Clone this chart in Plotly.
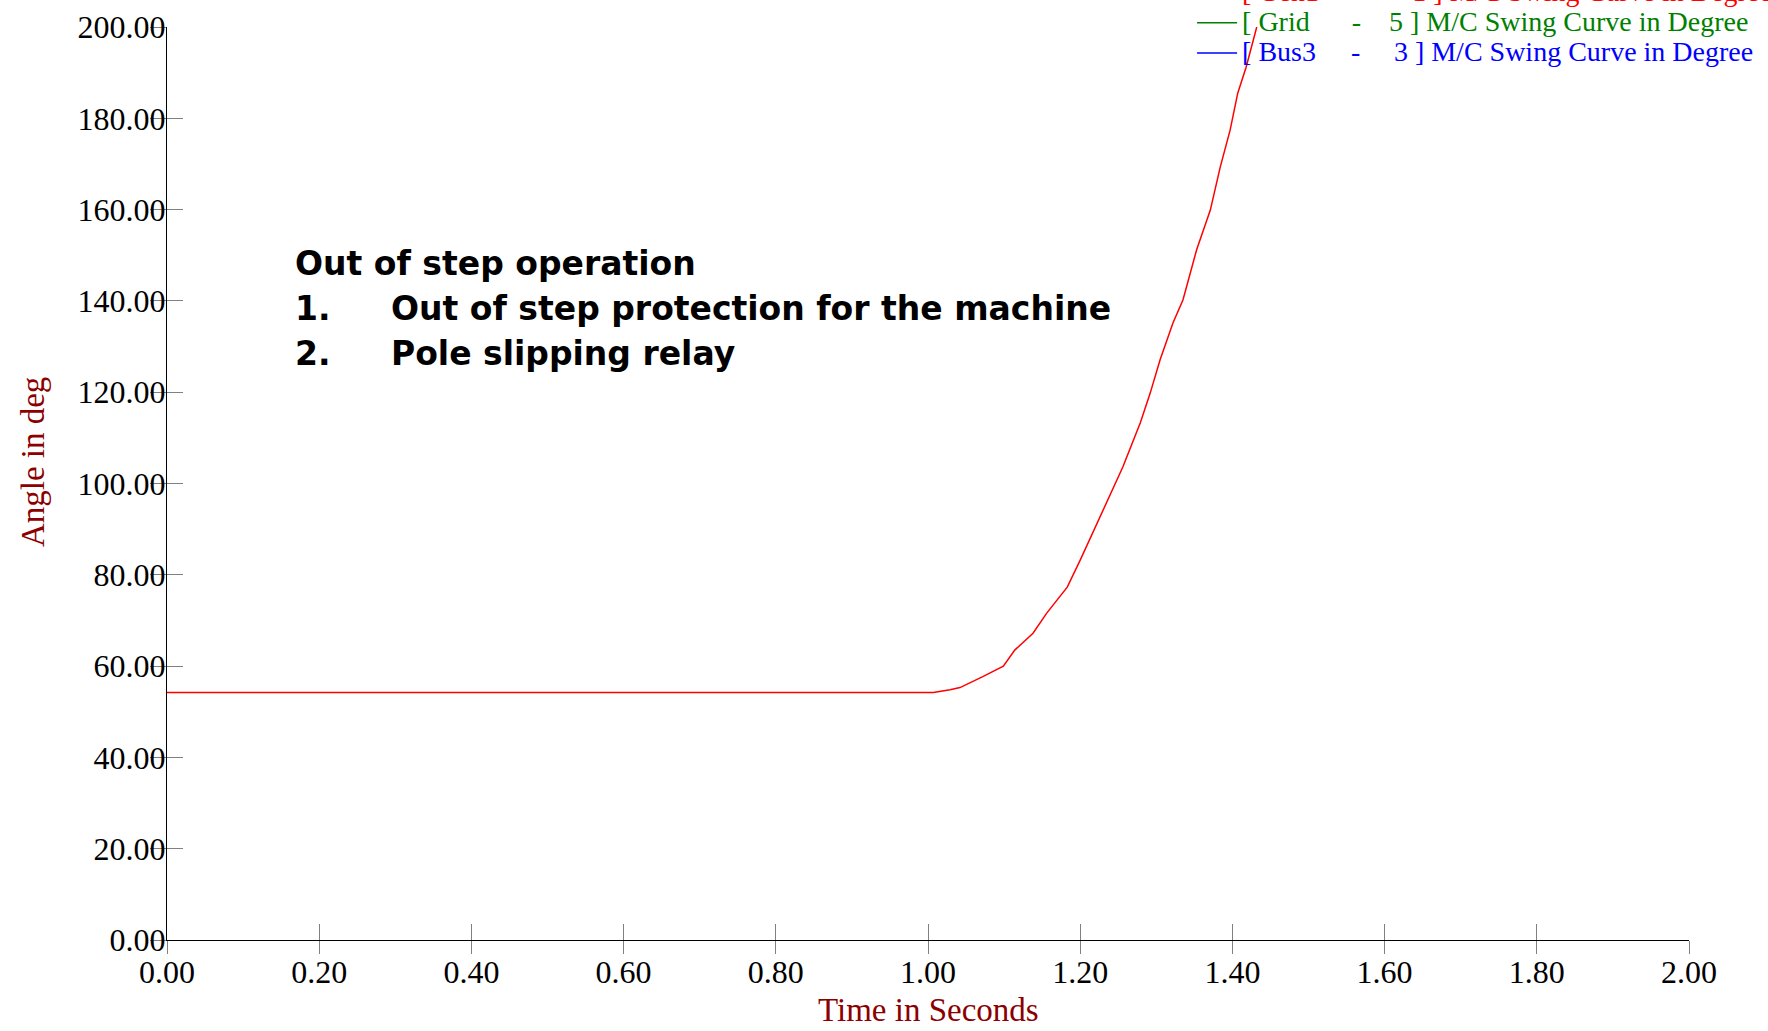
import plotly.graph_objects as go

# Machine swing curve: rotor angle (deg) against time (s)
time_s = [0.0, 1.0, 1.007, 1.029, 1.042, 1.072, 1.099, 1.114, 1.138, 1.156,
          1.183, 1.200, 1.226, 1.256, 1.279, 1.292, 1.305, 1.322, 1.335, 1.353,
          1.371, 1.384, 1.397, 1.407, 1.418, 1.432]
angle_deg = [54.2, 54.2, 54.2, 54.8, 55.3, 57.7, 60.0, 63.5, 67.2, 71.6,
             77.3, 83.2, 92.7, 103.6, 113.3, 119.8, 127.1, 135.2, 140.2, 151.2,
             159.9, 169.3, 177.4, 185.5, 191.2, 200.0]

x_ticks = [0.0, 0.2, 0.4, 0.6, 0.8, 1.0, 1.2, 1.4, 1.6, 1.8, 2.0]
y_ticks = [0, 20, 40, 60, 80, 100, 120, 140, 160, 180, 200]

NB = "\u00a0"
TH = "\u2009"
series_names = [
    f"[ Gen1{NB*6}-{NB*6}1 ] M/C Swing Curve in Degree",
    f"[ Grid{NB*6}-{NB*4}5 ] M/C Swing Curve in Degree",
    f"[ Bus3{NB*5}-{NB*4}{TH}3 ] M/C Swing Curve in Degree",
]
series_colors = ["#ff0000", "#008000", "#0000ff"]

note_title = "Out of step operation"
note_items = [("1.", "Out of step protection for the machine"),
              ("2.", "Pole slipping relay")]

serif = "Liberation Serif, Times New Roman, serif"
title_red = "#8b0000"


def legend_label(text, color):
    # entry text drawn in the series colour, larger than the row-pitch font
    return f'<span style="font-size:28px;color:{color}">{text}</span>'


fig = go.Figure()
fig.add_trace(go.Scatter(x=time_s, y=angle_deg, mode="lines",
                         name=legend_label(series_names[0], series_colors[0]),
                         line=dict(color=series_colors[0], width=1.5)))
for name, color in zip(series_names[1:], series_colors[1:]):
    fig.add_trace(go.Scatter(x=[None], y=[None], mode="lines",
                             name=legend_label(name, color),
                             xaxis="x2", yaxis="y2",
                             line=dict(color=color, width=1.5)))

tick_labels_x = [f"{v:.2f}" for v in x_ticks]
tick_labels_y = [f"{v:.2f}" for v in y_ticks]

axis_common = dict(showgrid=False, zeroline=False, tickcolor="#808080",
                   tickwidth=1, showline=True, linecolor="#000000", linewidth=1)

fig.update_layout(
    width=1768, height=1031,
    margin=dict(l=167, r=79, t=27, b=91, autoexpand=False),
    paper_bgcolor="white", plot_bgcolor="white",
    font=dict(family=serif, color="#000000", size=32),
    xaxis=dict(range=[0, 2], tickvals=x_ticks, ticktext=tick_labels_x,
               ticks="outside", ticklen=13, anchor="y",
               ticklabelstandoff=-9,
               tickfont=dict(family=serif, size=32, color="#000000"),
               **axis_common),
    yaxis=dict(range=[0, 200], tickvals=y_ticks, ticktext=tick_labels_y,
               ticks="outside", ticklen=16, anchor="x",
               ticklabelstandoff=-22,
               tickfont=dict(family=serif, size=32, color="#000000"),
               **axis_common),
    xaxis2=dict(range=[0, 2], tickvals=x_ticks, overlaying="x", anchor="y2",
                side="bottom", ticks="inside", ticklen=16,
                showticklabels=False, **axis_common),
    yaxis2=dict(range=[0, 200], tickvals=y_ticks, overlaying="y", anchor="x2",
                side="left", ticks="inside", ticklen=16,
                showticklabels=False, **axis_common),
    showlegend=True,
    legend=dict(x=0.6735, y=1.060, xanchor="left", yanchor="top",
                bgcolor="rgba(0,0,0,0)", borderwidth=0,
                font=dict(family=serif, size=21),
                tracegroupgap=0, itemwidth=40),
)

# axis titles
fig.add_annotation(text="Time in Seconds", xref="paper", yref="paper",
                   x=0.5, y=-0.0767, xanchor="center", yanchor="middle",
                   showarrow=False,
                   font=dict(family=serif, size=33, color=title_red))
fig.add_annotation(text="Angle in deg", xref="paper", yref="paper",
                   x=-0.088, y=0.5235, xanchor="center", yanchor="middle",
                   textangle=-90, showarrow=False,
                   font=dict(family=serif, size=33, color=title_red))

# explanatory note inside the plot
note_font = dict(family="DejaVu Sans, Verdana, sans-serif", size=33,
                 color="#000000")
fig.add_annotation(text=f"<b>{note_title}</b>", x=0.1656, y=148.3,
                   xanchor="left", yanchor="middle", showarrow=False,
                   font=note_font)
for i, (num, txt) in enumerate(note_items):
    yv = 138.4 - 9.85 * i
    fig.add_annotation(text=f"<b>{num}</b>", x=0.1656, y=yv,
                       xanchor="left", yanchor="middle", showarrow=False,
                       font=note_font)
    fig.add_annotation(text=f"<b>{txt}</b>", x=0.2917, y=yv,
                       xanchor="left", yanchor="middle", showarrow=False,
                       font=note_font)

fig.write_html("out.html")
